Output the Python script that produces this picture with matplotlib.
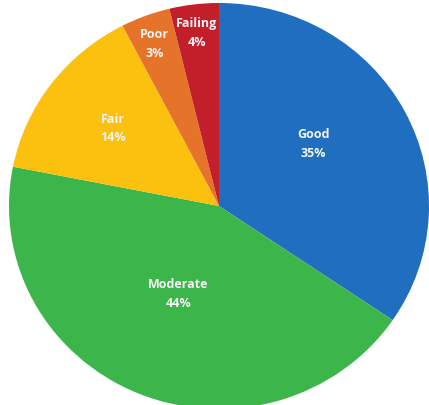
import matplotlib
matplotlib.use('Agg')
import matplotlib.pyplot as plt
import numpy as np

categories = ['Good', 'Moderate', 'Fair', 'Poor', 'Failing']
pct_labels = [35, 44, 14, 3, 4]
# wedge sizes as drawn in the picture (labels are the rounded figures)
shares = [34.5, 43.6, 14.3, 3.8, 3.8]
colors = ['#1f6ebf', '#3cb54a', '#fcc10f', '#e5742a', '#c21f2b']
# label placement: fraction of radius, and small turn off the wedge middle
label_dist = [0.545, 0.47, 0.637, 0.86, 0.863]
label_turn = [6.8, -1.7, -0.6, 0.4, 0.2]

W, H = 429, 406
cx, cy, rx, ry = 219, 207, 210, 203

fig = plt.figure(figsize=(W / 100, H / 100), dpi=100)
ax = fig.add_axes([0, 0, 1, 1])
wedges, _ = ax.pie(shares, colors=colors, startangle=90, counterclock=False,
                   radius=1, wedgeprops=dict(linewidth=0))
# the picture's pie is a touch squashed vertically
ax.set_aspect('auto')
ax.set_xlim(-cx / rx, (W - cx) / rx)
ax.set_ylim((cy - H) / ry, cy / ry)
ax.axis('off')

for w, name, val, d, t in zip(wedges, categories, pct_labels, label_dist, label_turn):
    mid = np.deg2rad((w.theta1 + w.theta2) / 2 + t)
    ax.text(d * np.cos(mid), d * np.sin(mid), f'{name}\n{val}%',
            ha='center', va='center', color='#f4f4f4', fontsize=9,
            fontweight='bold', linespacing=1.55, family='Open Sans')

fig.savefig('out.png', dpi=100)
